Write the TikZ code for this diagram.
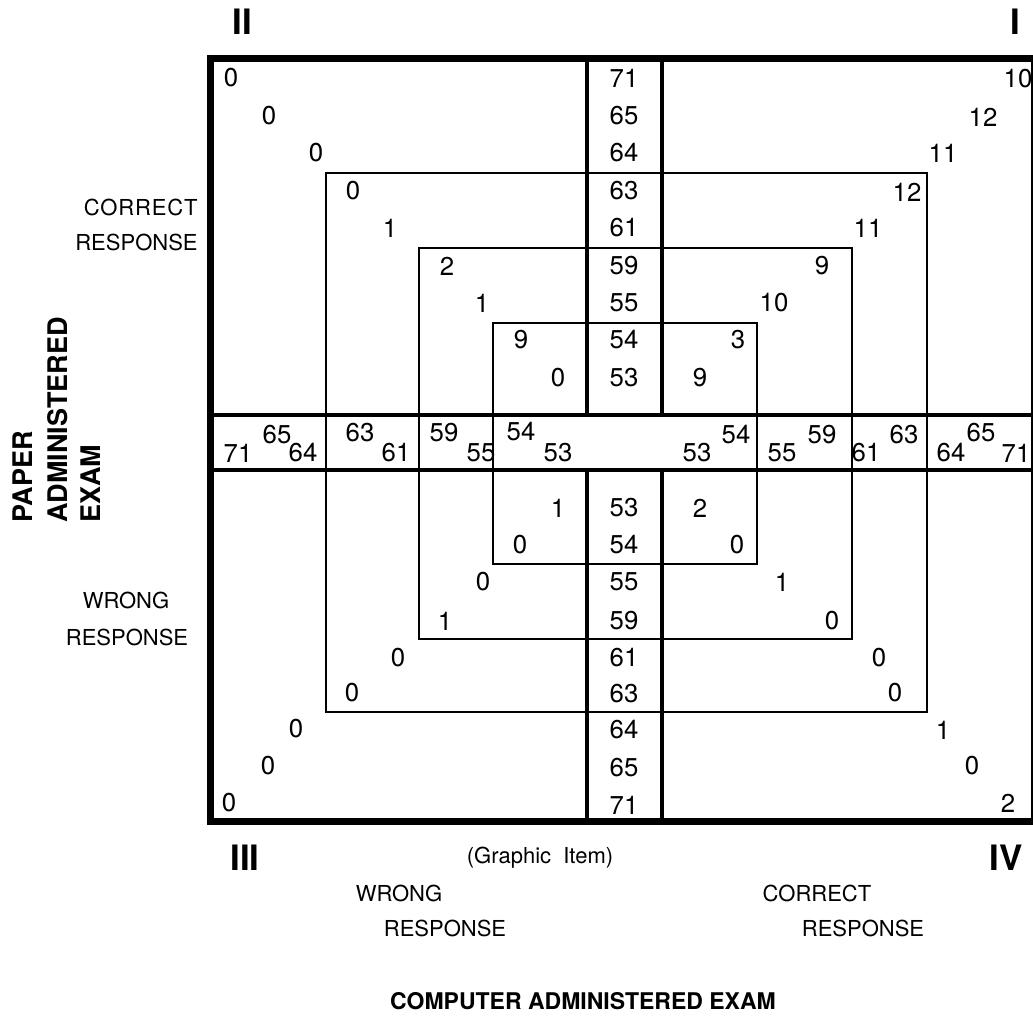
\documentclass[tikz,border=0pt]{standalone}
\usepackage{fontspec}
\setmainfont{TeX Gyre Heros}
\begin{document}
\begin{tikzpicture}[x=0.5pt,y=-0.5pt,
  num/.style={font=\fontsize{12.9}{15}\selectfont, inner sep=0pt},
  lbl/.style={font=\fontsize{11}{13}\selectfont, inner sep=0pt},
  roman/.style={font=\fontsize{17.5}{20}\selectfont\bfseries, inner sep=0pt},
  axislbl/.style={font=\fontsize{11.5}{14}\selectfont\bfseries, inner sep=0pt},
  sidelbl/.style={font=\fontsize{13.5}{16}\selectfont\bfseries, inner sep=0pt, rotate=90, anchor=west},
  frame/.style={line width=3.5pt},
  bandline/.style={line width=2pt},
  thinbox/.style={line width=0.9pt}]
\useasboundingbox (0,0) rectangle (1033,1022);

% nested response boxes
\draw[thinbox] (326,173) rectangle (927,712);
\draw[thinbox] (419,248) rectangle (852,639);
\draw[thinbox] (493,323) rectangle (757,564);

% horizontal and vertical bands
\draw[bandline] (210,415) -- (1036,415);
\draw[bandline] (210,470) -- (1036,470);
\draw[bandline] (587,59) -- (587,415);
\draw[bandline] (587,470) -- (587,821);
\draw[bandline] (662,59) -- (662,415);
\draw[bandline] (662,470) -- (662,821);

% outer frame
\draw[frame] (210,59) rectangle (1034.5,821);

% quadrant II
\foreach \x/\y/\t [count=\i] in {231/78/0, 269/116/0, 316/153/0, 353/191/0, 390/228/1,
    447/266/2, 482/303/1, 521/340/9, 558/378/0}
  \node[num] (qii\i) at (\x,\y) {\t};
% upper vertical band
\foreach \y/\t [count=\i] in {78/71, 116/65, 153/64, 191/63, 228/61, 266/59, 303/55, 340/54, 378/53}
  \node[num] (vu\i) at (624,\y) {\t};
% quadrant I
\foreach \x/\y/\t [count=\i] in {1018/79/10, 983/117/12, 943/153/11, 907/192/12, 868/228/11,
    822/266/9, 774/303/10, 738/340/3, 700/378/9}
  \node[num] (qi\i) at (\x,\y) {\t};
% horizontal band
\foreach \x/\y/\t [count=\i] in {238/453/71, 277/435/65, 303/453/64, 360/433/63, 396/453/61,
    444/433/59, 481/453/55, 521/432/54, 558/453/53, 697/453/53, 736/435/54, 782/453/55,
    822/435/59, 866/453/61, 904/435/63, 951/453/64, 981/433/65, 1016/453/71}
  \node[num] (hb\i) at (\x,\y) {\t};
% lower vertical band
\foreach \y/\t [count=\i] in {508/53, 545/54, 582/55, 621/59, 658/61, 694/63, 730/64, 768/65, 805/71}
  \node[num] (vl\i) at (624,\y) {\t};
% quadrant III
\foreach \x/\y/\t [count=\i] in {558/508/1, 520/545/0, 483/582/0, 445/621/1, 398/658/0,
    352/693/0, 296/729/0, 268/766/0, 229/803/0}
  \node[num] (qiii\i) at (\x,\y) {\t};
% quadrant IV
\foreach \x/\y/\t [count=\i] in {700/508/2, 737/545/0, 782/582/1, 832/621/0, 879/658/0,
    895/693/0, 943/730/1, 972/766/0, 1008/803/2}
  \node[num] (qiv\i) at (\x,\y) {\t};

% quadrant numerals
\node[roman] (rII) at (242,22) {II};
\node[roman] (rI) at (1015,22) {I};
\node[roman] (rIII) at (245,858) {III};
\node[roman] (rIV) at (1006,858) {IV};

% left labels
\node[lbl, anchor=east] (cr1) at (198,207) {\addfontfeature{LetterSpace=4}CORRECT};
\node[lbl, anchor=east] (cr2) at (198,242) {RESPONSE};
\node[lbl] (wr1) at (126,600) {WRONG};
\node[lbl] (wr2) at (127,637) {RESPONSE};
\node[sidelbl] (paper) at (23,523) {PAPER};
\node[sidelbl] (admin) at (58,523) {ADMINISTERED};
\node[sidelbl] (exam) at (91,523) {EXAM};

% bottom labels
\node[lbl] (graphic) at (540,858) {(Graphic\ \ Item)};
\node[lbl] (bw1) at (399,893) {WRONG};
\node[lbl] (bw2) at (445,928) {RESPONSE};
\node[lbl] (bc1) at (817,893) {CORRECT};
\node[lbl] (bc2) at (863,928) {RESPONSE};
\node[axislbl] (computer) at (583,1001) {COMPUTER ADMINISTERED EXAM};
\end{tikzpicture}
\end{document}
